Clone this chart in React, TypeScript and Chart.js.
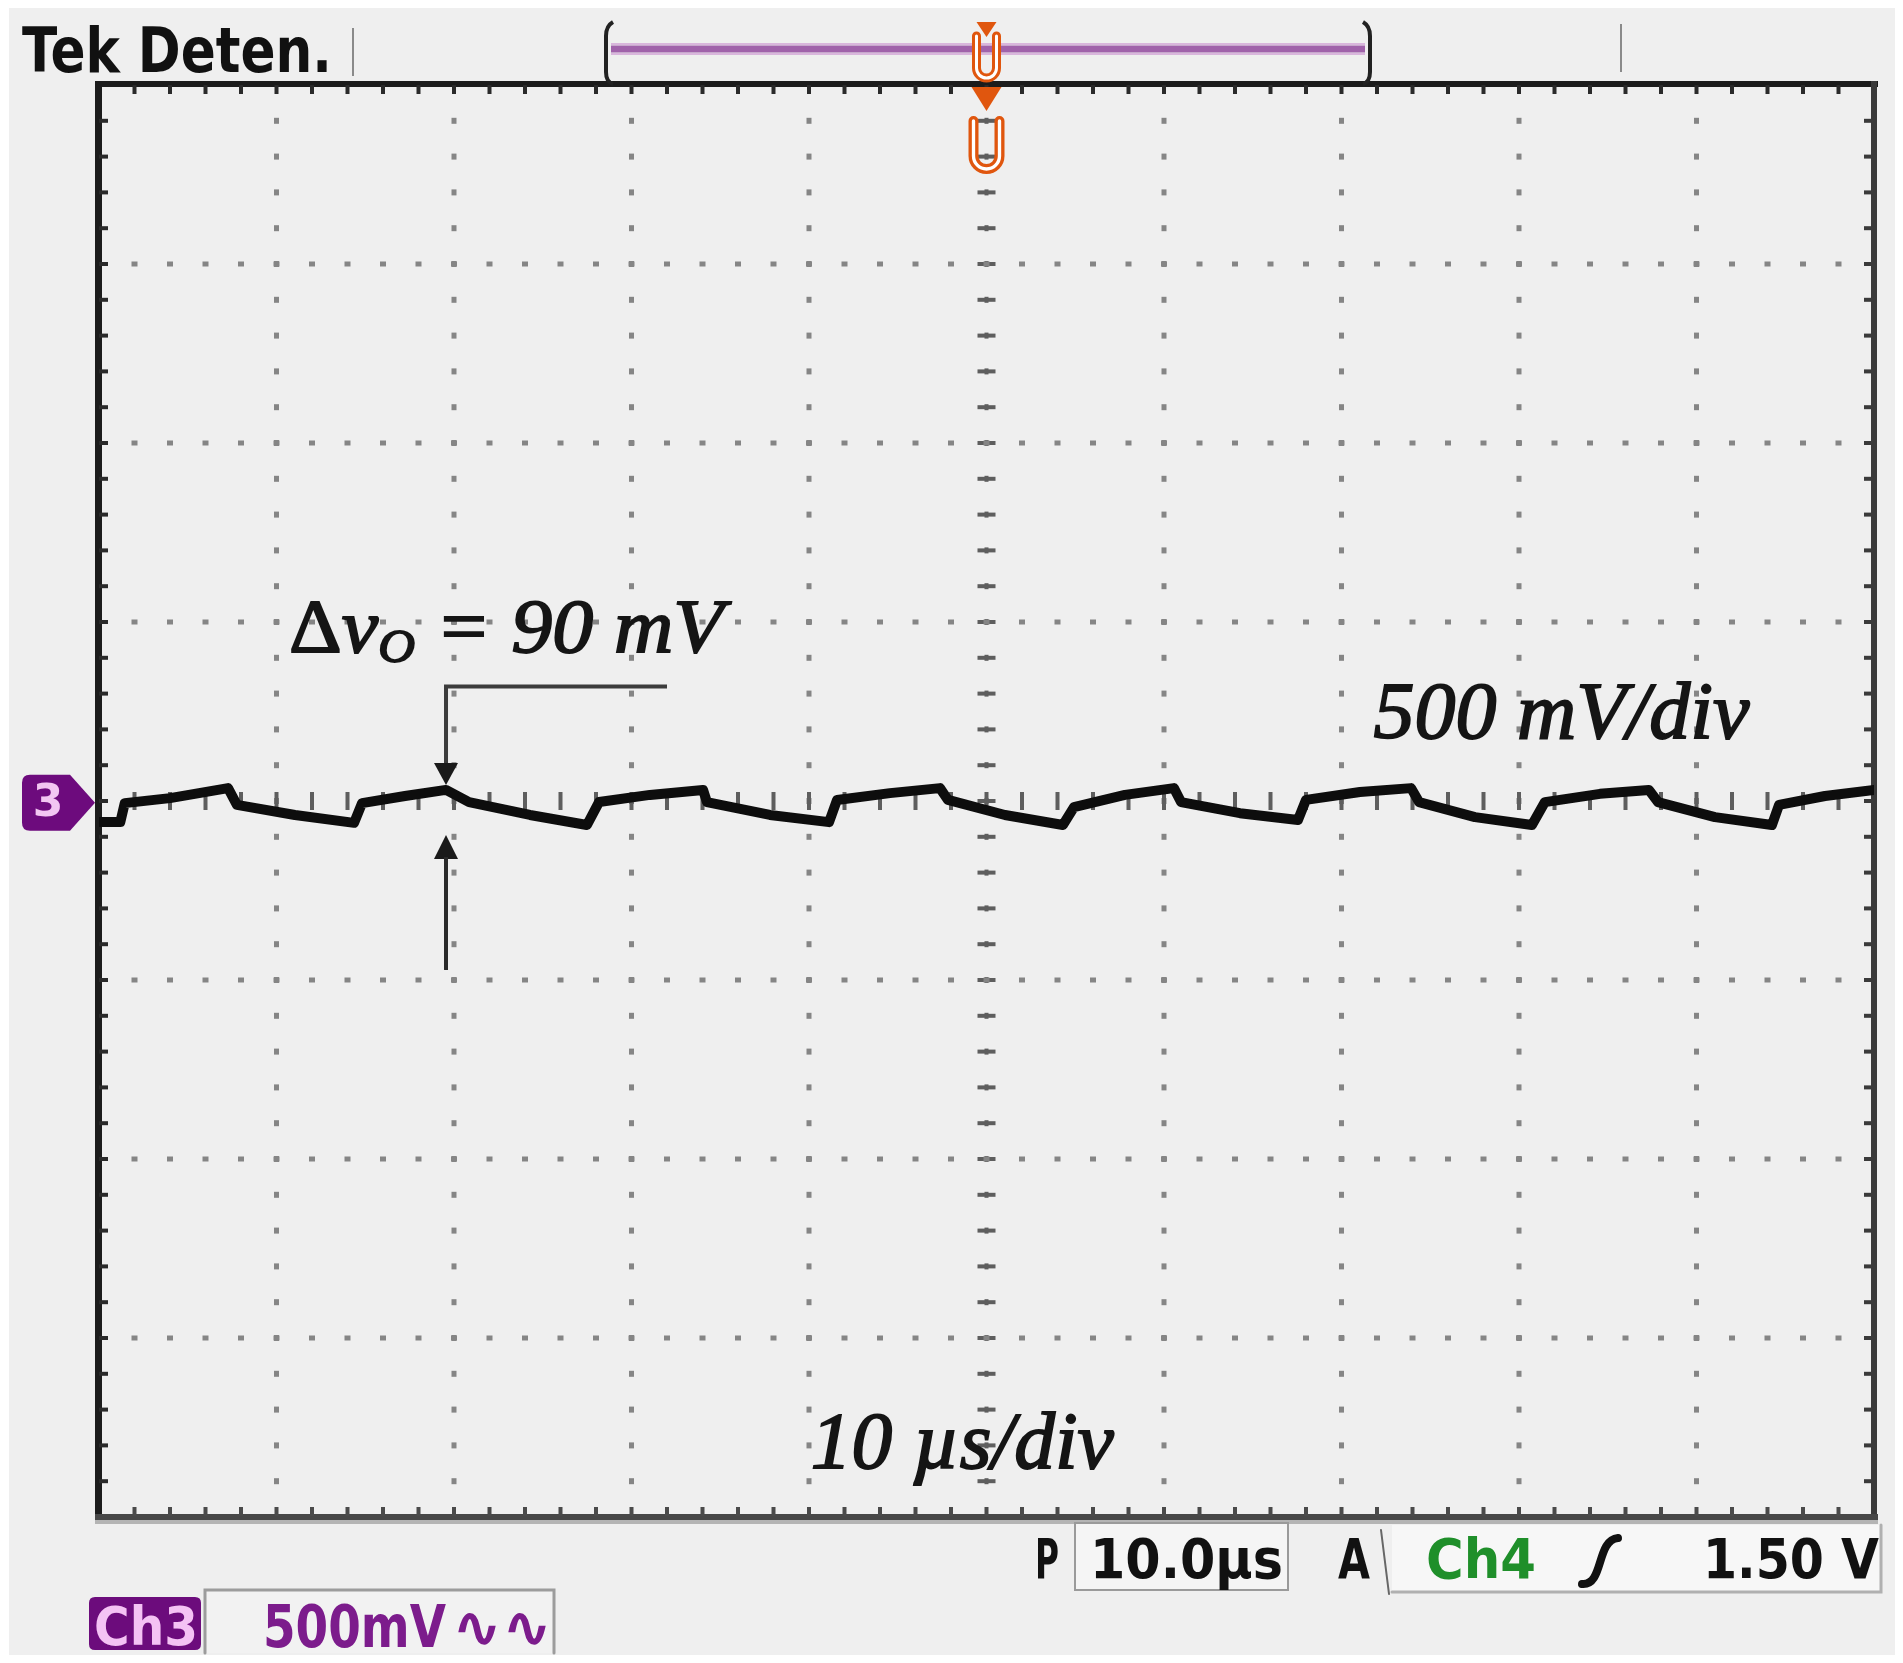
import React, { useEffect, useRef } from "react";
import { Chart, registerables } from "chart.js";

Chart.register(...registerables);

// ---------- data ----------
const TIME_US = [
  0, 1.2, 1.45, 4.0, 7.27, 7.77, 11.04, 14.37, 14.82, 17.24, 19.55, 20.85, 24.28, 27.49, 28.17,
  31.04, 34.03, 34.25, 37.8, 41.13, 41.58, 44.56, 47.38, 47.83, 51.04, 54.31, 54.93, 57.8, 60.56,
  60.96, 64.28, 67.55, 68.0, 71.04, 73.92, 74.37, 77.52, 80.73, 81.46, 84.56, 87.32, 87.83, 91.04,
  94.25, 94.65, 97.24, 100,
];
const CH3_VOLTS = [
  -0.059, -0.059, -0.006, 0.008, 0.036, -0.011, -0.039, -0.061, -0.006, 0.014, 0.031, -0.003,
  -0.039, -0.067, -0.003, 0.017, 0.031, -0.003, -0.039, -0.059, 0.003, 0.022, 0.036, 0.003,
  -0.039, -0.067, -0.017, 0.017, 0.036, -0.003, -0.034, -0.053, 0.003, 0.025, 0.036, -0.003,
  -0.045, -0.067, -0.003, 0.02, 0.031, -0.003, -0.045, -0.067, -0.011, 0.014, 0.031,
];

const TIME_PER_DIV = 10; // µs
const VOLTS_PER_DIV = 0.5; // V
const X_DIVS = 10;
const Y_DIVS = 8;
const SUBDIVS = 5;
const TRIGGER_US = 50;
const GROUND_V = -0.005;

// annotation anchors (in data units)
const DELTA_US = 19.55;
const DELTA_BAR_END_US = 32.0;
const DELTA_TOP_V = 0.32;
const DELTA_DOWN_TIP_V = 0.045;
const DELTA_UP_TIP_V = -0.095;
const DELTA_BOTTOM_V = -0.472;

const LABEL_DELTA = { t: 10.7, v: 0.416, text: " = 90 mV" };
const LABEL_VDIV = { t: 71.8, v: 0.176, text: "500 mV/div" };
const LABEL_TDIV = { t: 40.1, v: -1.863, text: "10 µs/div" };

const HEADER_TEXT = "Tek Deten.";
const TIME_READOUT = "10.0µs";
const TRIG_SOURCE = "Ch4";
const TRIG_LEVEL = "1.50 V";
const CH_LABEL = "Ch3";
const CH_SCALE = "500mV";

const W = 1903;
const H = 1663;

const SERIF = "'Liberation Serif', 'DejaVu Serif', serif";
const SANS = "'DejaVu Sans', 'Noto Sans', sans-serif";

function fitText(
  ctx: CanvasRenderingContext2D,
  text: string,
  x: number,
  baseline: number,
  width: number,
  font: string,
  color: string,
  stroke = 0
) {
  ctx.save();
  ctx.font = font;
  ctx.textAlign = "left";
  ctx.textBaseline = "alphabetic";
  const w = ctx.measureText(text).width || 1;
  ctx.translate(x, baseline);
  ctx.scale(width / w, 1);
  ctx.fillStyle = color;
  ctx.fillText(text, 0, 0);
  if (stroke > 0) {
    ctx.strokeStyle = color;
    ctx.lineWidth = stroke;
    ctx.strokeText(text, 0, 0);
  }
  ctx.restore();
}

function roundRect(ctx: CanvasRenderingContext2D, x: number, y: number, w: number, h: number, r: number) {
  ctx.beginPath();
  ctx.moveTo(x + r, y);
  ctx.lineTo(x + w - r, y);
  ctx.quadraticCurveTo(x + w, y, x + w, y + r);
  ctx.lineTo(x + w, y + h - r);
  ctx.quadraticCurveTo(x + w, y + h, x + w - r, y + h);
  ctx.lineTo(x + r, y + h);
  ctx.quadraticCurveTo(x, y + h, x, y + h - r);
  ctx.lineTo(x, y + r);
  ctx.quadraticCurveTo(x, y, x + r, y);
  ctx.closePath();
}

const backgroundPlugin = {
  id: "scopeBackground",
  beforeDraw(chart: any) {
    const ctx: CanvasRenderingContext2D = chart.ctx;
    ctx.save();
    ctx.fillStyle = "#ffffff";
    ctx.fillRect(0, 0, W, H);
    ctx.fillStyle = "#efefef";
    ctx.fillRect(9, 8, 1886, 1647);
    ctx.restore();
  },
};

const graticulePlugin = {
  id: "graticule",
  beforeDatasetsDraw(chart: any) {
    const ctx: CanvasRenderingContext2D = chart.ctx;
    const xs = chart.scales.x;
    const ys = chart.scales.y;
    const { left, right, top, bottom } = chart.chartArea;
    const xMin = 0;
    const yMin = -(Y_DIVS / 2) * VOLTS_PER_DIV;
    ctx.save();
    // vertical grid lines
    for (let k = 1; k < X_DIVS; k++) {
      const px = xs.getPixelForValue(xMin + k * TIME_PER_DIV);
      const center = k === X_DIVS / 2;
      for (let j = 1; j < Y_DIVS * SUBDIVS; j++) {
        const py = ys.getPixelForValue(yMin + (j * VOLTS_PER_DIV) / SUBDIVS);
        if (center) {
          ctx.fillStyle = "#5e5e5e";
          ctx.fillRect(px - 9, py - 2, 18, 4);
          ctx.fillRect(px - 2, py - 3, 4, 6);
        } else {
          ctx.fillStyle = "#858585";
          ctx.fillRect(px - 2.5, py - 3, 5, 6);
        }
      }
    }
    // horizontal grid lines
    for (let k = 1; k < Y_DIVS; k++) {
      const py = ys.getPixelForValue(yMin + k * VOLTS_PER_DIV);
      const center = k === Y_DIVS / 2;
      for (let j = 1; j < X_DIVS * SUBDIVS; j++) {
        const px = xs.getPixelForValue(xMin + (j * TIME_PER_DIV) / SUBDIVS);
        if (center) {
          ctx.fillStyle = "#5e5e5e";
          ctx.fillRect(px - 2, py - 9, 4, 18);
        } else {
          ctx.fillStyle = "#858585";
          ctx.fillRect(px - 3, py - 2.5, 6, 5);
        }
      }
    }
    // frame
    ctx.fillStyle = "#1c1c1c";
    ctx.fillRect(left - 4, top - 4, right - left + 8, 6); // top
    ctx.fillRect(left - 4, top - 4, 7, bottom - top + 8); // left
    ctx.fillStyle = "#3a3a3a";
    ctx.fillRect(right - 3, top - 4, 6, bottom - top + 8); // right
    ctx.fillStyle = "#474747";
    ctx.fillRect(left - 4, bottom - 3, right - left + 8, 6); // bottom
    ctx.fillStyle = "#b4b4b4";
    ctx.fillRect(left - 4, bottom + 3, right - left + 8, 4);
    // frame ticks
    for (let j = 1; j < X_DIVS * SUBDIVS; j++) {
      const px = xs.getPixelForValue(xMin + (j * TIME_PER_DIV) / SUBDIVS);
      ctx.fillStyle = "#2a2a2a";
      ctx.fillRect(px - 2, top, 4, 9);
      ctx.fillStyle = "#4a4a4a";
      ctx.fillRect(px - 2, bottom - 10, 4, 9);
    }
    for (let j = 1; j < Y_DIVS * SUBDIVS; j++) {
      const py = ys.getPixelForValue(yMin + (j * VOLTS_PER_DIV) / SUBDIVS);
      ctx.fillStyle = "#2a2a2a";
      ctx.fillRect(left, py - 2, 9, 4);
      ctx.fillStyle = "#3a3a3a";
      ctx.fillRect(right - 10, py - 2, 9, 4);
    }
    ctx.restore();
  },
};

function drawHollowU(ctx: CanvasRenderingContext2D, cx: number, y0: number, y1: number, hw: number, lw: number) {
  const r = hw;
  const path = () => {
    ctx.beginPath();
    ctx.moveTo(cx - hw, y0);
    ctx.lineTo(cx - hw, y1 - r);
    ctx.arc(cx, y1 - r, r, Math.PI, 0, true);
    ctx.lineTo(cx + hw, y0);
  };
  ctx.lineCap = "round";
  ctx.strokeStyle = "#e0560e";
  ctx.lineWidth = lw;
  path();
  ctx.stroke();
  ctx.strokeStyle = "#ffffff";
  ctx.lineWidth = Math.max(2, lw / 3);
  path();
  ctx.stroke();
}

const overlayPlugin = {
  id: "overlay",
  afterDatasetsDraw(chart: any) {
    const ctx: CanvasRenderingContext2D = chart.ctx;
    const xs = chart.scales.x;
    const ys = chart.scales.y;
    const { left, top } = chart.chartArea;
    ctx.save();

    // ---- Δv annotation arrows ----
    const ax = xs.getPixelForValue(DELTA_US);
    const barEnd = xs.getPixelForValue(DELTA_BAR_END_US);
    const yTop = ys.getPixelForValue(DELTA_TOP_V);
    const yDown = ys.getPixelForValue(DELTA_DOWN_TIP_V);
    const yUp = ys.getPixelForValue(DELTA_UP_TIP_V);
    const yBot = ys.getPixelForValue(DELTA_BOTTOM_V);
    ctx.strokeStyle = "#3c3c3c";
    ctx.lineWidth = 4;
    ctx.beginPath();
    ctx.moveTo(barEnd, yTop);
    ctx.lineTo(ax, yTop);
    ctx.lineTo(ax, yDown - 20);
    ctx.stroke();
    ctx.fillStyle = "#1a1a1a";
    ctx.beginPath();
    ctx.moveTo(ax - 12, yDown - 22);
    ctx.lineTo(ax + 12, yDown - 22);
    ctx.lineTo(ax, yDown);
    ctx.closePath();
    ctx.fill();
    ctx.beginPath();
    ctx.moveTo(ax - 12, yUp + 24);
    ctx.lineTo(ax + 12, yUp + 24);
    ctx.lineTo(ax, yUp);
    ctx.closePath();
    ctx.fill();
    ctx.strokeStyle = "#2a2a2a";
    ctx.beginPath();
    ctx.moveTo(ax, yUp + 22);
    ctx.lineTo(ax, yBot);
    ctx.stroke();

    // ---- annotation texts ----
    {
      const x0 = xs.getPixelForValue(LABEL_DELTA.t);
      const base = ys.getPixelForValue(LABEL_DELTA.v);
      const size = 76;
      ctx.save();
      ctx.translate(x0, base);
      ctx.scale(1.08, 1);
      ctx.fillStyle = "#151515";
      ctx.strokeStyle = "#151515";
      ctx.lineWidth = 1.8;
      ctx.font = `normal ${size}px ${SERIF}`;
      let cx = 0;
      ctx.fillText("Δ", cx, 0);
      ctx.strokeText("Δ", cx, 0);
      cx += ctx.measureText("Δ").width;
      ctx.font = `italic ${size}px ${SERIF}`;
      ctx.fillText("v", cx, 0);
      ctx.strokeText("v", cx, 0);
      cx += ctx.measureText("v").width;
      ctx.font = `italic ${size * 0.62}px ${SERIF}`;
      ctx.fillText("O", cx, 10);
      ctx.strokeText("O", cx, 10);
      cx += ctx.measureText("O").width;
      ctx.font = `italic ${size}px ${SERIF}`;
      ctx.fillText(LABEL_DELTA.text, cx, 0);
      ctx.strokeText(LABEL_DELTA.text, cx, 0);
      ctx.restore();
    }
    fitText(
      ctx,
      LABEL_VDIV.text,
      xs.getPixelForValue(LABEL_VDIV.t),
      ys.getPixelForValue(LABEL_VDIV.v),
      376,
      `italic ${80}px ${SERIF}`,
      "#151515",
      1.8
    );
    fitText(
      ctx,
      LABEL_TDIV.text,
      xs.getPixelForValue(LABEL_TDIV.t),
      ys.getPixelForValue(LABEL_TDIV.v),
      303,
      `italic ${80}px ${SERIF}`,
      "#151515",
      1.8
    );

    // ---- channel 3 ground marker ----
    const gy = ys.getPixelForValue(GROUND_V);
    ctx.fillStyle = "#6d0b7d";
    ctx.beginPath();
    ctx.moveTo(30, gy - 28);
    ctx.lineTo(70, gy - 28);
    ctx.lineTo(left - 4, gy);
    ctx.lineTo(70, gy + 28);
    ctx.lineTo(30, gy + 28);
    ctx.quadraticCurveTo(22, gy + 28, 22, gy + 20);
    ctx.lineTo(22, gy - 20);
    ctx.quadraticCurveTo(22, gy - 28, 30, gy - 28);
    ctx.closePath();
    ctx.fill();
    ctx.fillStyle = "#f2c6f2";
    ctx.font = `bold 44px ${SANS}`;
    ctx.textAlign = "center";
    ctx.textBaseline = "middle";
    ctx.fillText("3", 48, gy + 2);

    // ---- trigger position markers ----
    const tx = xs.getPixelForValue(TRIGGER_US);
    ctx.fillStyle = "#e0560e";
    ctx.beginPath();
    ctx.moveTo(tx - 15, top + 2);
    ctx.lineTo(tx + 15, top + 2);
    ctx.lineTo(tx, top + 26);
    ctx.closePath();
    ctx.fill();
    drawHollowU(ctx, tx, top + 36, top + 84, 13, 10);

    ctx.restore();
  },
  afterDraw(chart: any) {
    const ctx: CanvasRenderingContext2D = chart.ctx;
    const xs = chart.scales.x;
    ctx.save();

    // ---- header ----
    fitText(ctx, HEADER_TEXT, 22, 72, 310, `bold 62px ${SANS}`, "#111111");
    ctx.strokeStyle = "#8a8a8a";
    ctx.lineWidth = 2;
    ctx.beginPath();
    ctx.moveTo(353, 28);
    ctx.lineTo(353, 76);
    ctx.moveTo(1621, 24);
    ctx.lineTo(1621, 72);
    ctx.stroke();

    // record view bar
    const bx0 = 607;
    const bx1 = 1369;
    ctx.strokeStyle = "#a062aa";
    ctx.lineWidth = 7;
    ctx.beginPath();
    ctx.moveTo(bx0 + 4, 49);
    ctx.lineTo(bx1 - 4, 49);
    ctx.stroke();
    ctx.strokeStyle = "#d9b6dc";
    ctx.lineWidth = 2;
    ctx.beginPath();
    ctx.moveTo(bx0 + 4, 44);
    ctx.lineTo(bx1 - 4, 44);
    ctx.moveTo(bx0 + 4, 54);
    ctx.lineTo(bx1 - 4, 54);
    ctx.stroke();
    ctx.strokeStyle = "#222";
    ctx.lineWidth = 4;
    ctx.beginPath();
    ctx.moveTo(bx0 + 6, 22);
    ctx.quadraticCurveTo(bx0 - 1, 26, bx0 - 1, 36);
    ctx.lineTo(bx0 - 1, 72);
    ctx.quadraticCurveTo(bx0 - 1, 82, bx0 + 6, 84);
    ctx.moveTo(bx1 - 6, 22);
    ctx.quadraticCurveTo(bx1 + 1, 26, bx1 + 1, 36);
    ctx.lineTo(bx1 + 1, 72);
    ctx.quadraticCurveTo(bx1 + 1, 82, bx1 - 6, 84);
    ctx.stroke();
    const tx = xs.getPixelForValue(TRIGGER_US);
    ctx.fillStyle = "#e0560e";
    ctx.beginPath();
    ctx.moveTo(tx - 10, 22);
    ctx.lineTo(tx + 10, 22);
    ctx.lineTo(tx, 37);
    ctx.closePath();
    ctx.fill();
    drawHollowU(ctx, tx, 36, 78, 10, 9);

    // ---- bottom status bar ----
    const sb = 1578;
    ctx.fillStyle = "#f5f5f5";
    ctx.fillRect(1075, 1523, 213, 67);
    ctx.strokeStyle = "#9a9a9a";
    ctx.lineWidth = 2;
    ctx.strokeRect(1075, 1523, 213, 67);
    ctx.fillStyle = "#f7f7f7";
    ctx.fillRect(1392, 1525, 489, 67);
    ctx.strokeStyle = "#b0b0b0";
    ctx.lineWidth = 3;
    ctx.beginPath();
    ctx.moveTo(1392, 1592);
    ctx.lineTo(1881, 1592);
    ctx.lineTo(1881, 1525);
    ctx.stroke();
    ctx.strokeStyle = "#666";
    ctx.lineWidth = 2;
    ctx.beginPath();
    ctx.moveTo(1381, 1530);
    ctx.lineTo(1389, 1594);
    ctx.stroke();

    fitText(ctx, "P", 1035, sb, 24, `bold 56px ${SANS}`, "#111111");
    fitText(ctx, TIME_READOUT, 1090, sb, 193, `bold 56px ${SANS}`, "#111111");
    fitText(ctx, "A", 1338, sb, 32, `bold 56px ${SANS}`, "#111111");
    fitText(ctx, TRIG_SOURCE, 1426, sb, 110, `bold 56px ${SANS}`, "#1f8f2a");
    fitText(ctx, TRIG_LEVEL, 1703, sb, 176, `bold 56px ${SANS}`, "#111111");
    ctx.strokeStyle = "#111";
    ctx.lineWidth = 8;
    ctx.lineCap = "round";
    ctx.beginPath();
    ctx.moveTo(1582, 1584);
    ctx.bezierCurveTo(1604, 1586, 1596, 1540, 1618, 1538);
    ctx.stroke();

    // channel 3 readout
    ctx.fillStyle = "#6c0c7c";
    roundRect(ctx, 89, 1597, 112, 53, 6);
    ctx.fill();
    fitText(ctx, CH_LABEL, 94, 1645, 104, `bold 54px ${SANS}`, "#f4c2f4");
    ctx.fillStyle = "#f2f2f2";
    ctx.fillRect(205, 1590, 349, 63);
    ctx.strokeStyle = "#9c9c9c";
    ctx.lineWidth = 3;
    ctx.beginPath();
    ctx.moveTo(205, 1653);
    ctx.lineTo(205, 1590);
    ctx.lineTo(554, 1590);
    ctx.lineTo(554, 1653);
    ctx.stroke();
    fitText(ctx, CH_SCALE, 263, 1647, 183, `bold 58px ${SANS}`, "#7c1c8c");
    fitText(ctx, "∿∿", 452, 1647, 100, `bold 58px ${SANS}`, "#7c1c8c");

    ctx.restore();
  },
};

export default function App() {
  const canvasRef = useRef<HTMLCanvasElement | null>(null);

  useEffect(() => {
    document.body.style.margin = "0";
    const canvas = canvasRef.current;
    if (!canvas) return;
    const chart = new Chart(canvas, {
      type: "line",
      data: {
        datasets: [
          {
            label: "Ch3",
            data: TIME_US.map((t, i) => ({ x: t, y: CH3_VOLTS[i] })),
            borderColor: "#0d0d0d",
            borderWidth: 10,
            pointRadius: 0,
            tension: 0,
            borderJoinStyle: "round",
            borderCapStyle: "round",
          },
        ],
      },
      options: {
        animation: false,
        responsive: false,
        devicePixelRatio: 1,
        layout: { padding: { left: 99, top: 85, right: 29, bottom: 146 } },
        plugins: {
          legend: { display: false },
          tooltip: { enabled: false },
        },
        scales: {
          x: {
            type: "linear",
            min: 0,
            max: X_DIVS * TIME_PER_DIV,
            display: false,
          },
          y: {
            type: "linear",
            min: -(Y_DIVS / 2) * VOLTS_PER_DIV,
            max: (Y_DIVS / 2) * VOLTS_PER_DIV,
            display: false,
          },
        },
      },
      plugins: [backgroundPlugin, graticulePlugin, overlayPlugin],
    } as any);
    return () => chart.destroy();
  }, []);

  return (
    <div style={{ position: "absolute", left: 0, top: 0, width: W, height: H }}>
      <canvas ref={canvasRef} width={W} height={H} style={{ display: "block", width: W, height: H }} />
    </div>
  );
}
